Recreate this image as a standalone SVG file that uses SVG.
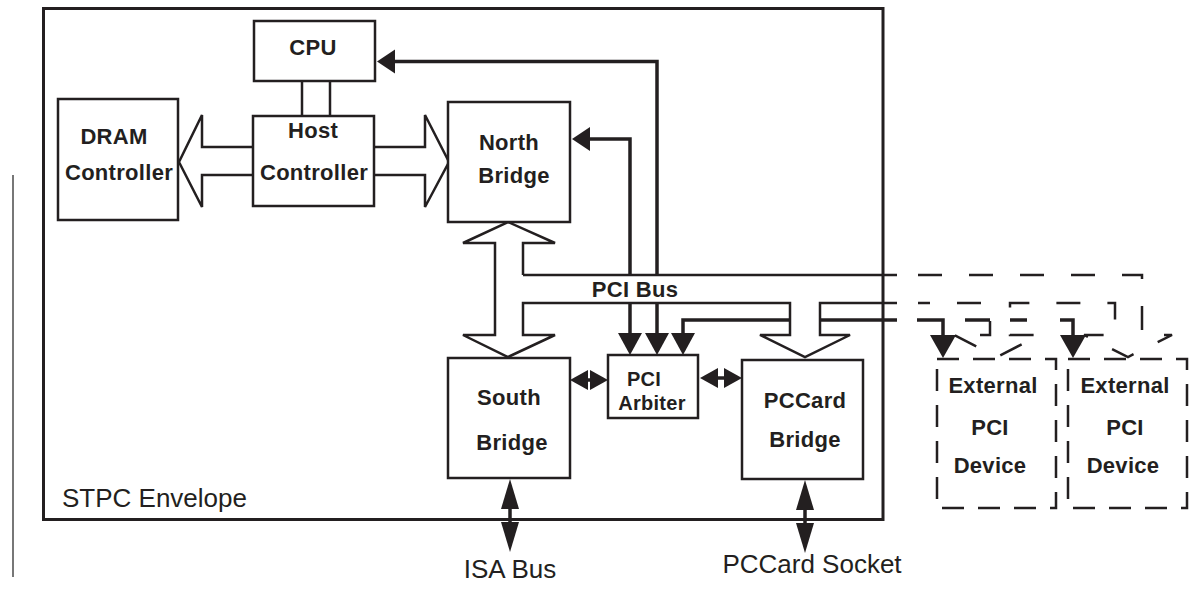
<svg xmlns="http://www.w3.org/2000/svg" width="1189" height="593" viewBox="0 0 1189 593">
  <style>
    .box { fill: #fff; stroke: #231f20; stroke-width: 2.5; }
    .env { fill: none; stroke: #231f20; stroke-width: 3; }
    .ext { fill: none; stroke: #231f20; stroke-width: 2.5; stroke-dasharray: 22 14; }
    .bus { fill: none; stroke: #231f20; stroke-width: 2.5; }
    .busx { fill: none; stroke: #231f20; stroke-width: 2.5; stroke-dasharray: 24 27; }
    .fat { fill: #fff; stroke: #231f20; stroke-width: 2.5; stroke-linejoin: miter; }
    .sig { fill: none; stroke: #231f20; stroke-width: 3.5; }
    .head { fill: #231f20; stroke: none; }
    .lbl { font-family: "Liberation Sans", Arial, sans-serif; font-weight: bold; font-size: 22px; letter-spacing: 0.3px; fill: #231f20; text-anchor: middle; }
    .lbl-sm { font-size: 20px; }
    .txt { font-family: "Liberation Sans", Arial, sans-serif; font-size: 26px; fill: #231f20; }
  </style>

  <!-- side rule -->
  <line x1="13" y1="175" x2="13" y2="577" stroke="#555" stroke-width="1.6"/>

  <!-- chip envelope -->
  <g id="envelope">
    <rect class="env" x="43.5" y="8.5" width="839.5" height="511"/>
    <text class="txt" x="62" y="507">STPC Envelope</text>
  </g>

  <g id="connectors">
    <!-- CPU to host controller -->
    <line class="bus" x1="302" y1="81" x2="302" y2="116"/>
    <line class="bus" x1="330" y1="81" x2="330" y2="116"/>

    <!-- host controller wide paths -->
    <path class="fat" d="M253,147 H202 V115 L179,162 L202,207 V175 H253"/>
    <path class="fat" d="M374,147 H425 V115 L449,162 L425,207 V175 H374"/>

    <!-- arbiter grant line, passes behind the PCCard branch -->
    <path class="sig" d="M683,335 V320 H790"/>
    <path class="sig" d="M820,320 H897"/>

    <!-- PCI bus: north/south branch, top and bottom rails, PCCard branch -->
    <path class="bus" d="M523,275 V243 H555 L508,222 L463,243 H495 V335 H463 L508,357 L555,335 H523 V303 H790 V335 H760 L805,357 L850,335 H820 V303 H897"/>
    <path class="bus" d="M523,275 H897"/>

    <!-- PCI bus continued off-chip -->
    <path class="busx" d="M918,275 H1142 V335 H1172 L1128,357 L1084,335 H1115 V303 H1010 V335 H1040 L997,357 L954,335 H990 V303 H918"/>

    <!-- off-chip grant lines -->
    <path class="sig" d="M917,320 H943 V336"/>
    <path class="sig" d="M965,320 H990"/>
    <path class="sig" d="M1010,320 H1027"/>
    <path class="sig" d="M1060,320 H1073 V336"/>
    <polygon class="head" points="930,335 956,335 943,358"/>
    <polygon class="head" points="1060,335 1086,335 1073,358"/>

    <!-- requests to CPU and north bridge -->
    <path class="sig" d="M657,275 V61.5 H394"/>
    <polygon class="head" points="377,61.5 395,49.5 395,73.5"/>
    <path class="sig" d="M630,275 V139 H589"/>
    <polygon class="head" points="572,139 590,127 590,151"/>

    <!-- requests into arbiter -->
    <path class="sig" d="M630,303 V334"/>
    <path class="sig" d="M657,303 V334"/>
    <polygon class="head" points="618,333 642,333 630,355"/>
    <polygon class="head" points="645,333 669,333 657,355"/>
    <polygon class="head" points="671,333 695,333 683,355"/>

    <!-- arbiter sideband links -->
    <line class="sig" x1="578" y1="380" x2="600" y2="380"/>
    <polygon class="head" points="570,380 588,370 588,390"/>
    <polygon class="head" points="608,380 590,370 590,390"/>
    <line class="sig" x1="708" y1="378" x2="732" y2="378"/>
    <polygon class="head" points="700,378 718,368 718,388"/>
    <polygon class="head" points="742,378 724,368 724,388"/>

    <!-- ISA bus and PCCard socket -->
    <line class="sig" x1="510" y1="500" x2="510" y2="530"/>
    <polygon class="head" points="510,479 501,509 519,509"/>
    <polygon class="head" points="510,552 501,522 519,522"/>
    <line class="sig" x1="805" y1="500" x2="805" y2="530"/>
    <polygon class="head" points="805,480 796,510 814,510"/>
    <polygon class="head" points="805,553 796,523 814,523"/>
  </g>

  <g id="cpu">
    <rect class="box" x="254" y="21" width="121" height="60"/>
    <text class="lbl" x="313" y="55">CPU</text>
  </g>

  <g id="host-controller">
    <rect class="box" x="253" y="116" width="121" height="90"/>
    <text class="lbl" x="313" y="138">Host</text>
    <text class="lbl" x="314" y="180">Controller</text>
  </g>

  <g id="dram-controller">
    <rect class="box" x="58" y="99" width="120" height="121"/>
    <text class="lbl" x="114" y="144">DRAM</text>
    <text class="lbl" x="119" y="180">Controller</text>
  </g>

  <g id="north-bridge">
    <rect class="box" x="448" y="102" width="122" height="120"/>
    <text class="lbl" x="509" y="150">North</text>
    <text class="lbl" x="514" y="183">Bridge</text>
  </g>

  <g id="pci-bus-label">
    <text class="lbl" x="635" y="297">PCI Bus</text>
  </g>

  <g id="pci-arbiter">
    <rect class="box" x="608" y="355" width="90" height="63"/>
    <text class="lbl lbl-sm" x="644" y="386">PCI</text>
    <text class="lbl lbl-sm" x="652" y="410">Arbiter</text>
  </g>

  <g id="south-bridge">
    <rect class="box" x="448" y="358" width="122" height="120"/>
    <text class="lbl" x="509" y="405">South</text>
    <text class="lbl" x="512" y="450">Bridge</text>
  </g>

  <g id="pccard-bridge">
    <rect class="box" x="742" y="360" width="121" height="119"/>
    <text class="lbl" x="805" y="408">PCCard</text>
    <text class="lbl" x="805" y="447">Bridge</text>
  </g>

  <g id="external-device-1">
    <rect class="ext" x="937" y="359" width="119" height="149"/>
    <text class="lbl" x="993" y="393">External</text>
    <text class="lbl" x="990" y="435">PCI</text>
    <text class="lbl" x="990" y="473">Device</text>
  </g>

  <g id="external-device-2">
    <rect class="ext" x="1068" y="359" width="119" height="149"/>
    <text class="lbl" x="1125" y="393">External</text>
    <text class="lbl" x="1125" y="435">PCI</text>
    <text class="lbl" x="1123" y="473">Device</text>
  </g>

  <g id="bus-labels">
    <text class="txt" x="510" y="578" text-anchor="middle">ISA Bus</text>
    <text class="txt" x="812" y="573" text-anchor="middle">PCCard Socket</text>
  </g>
</svg>
